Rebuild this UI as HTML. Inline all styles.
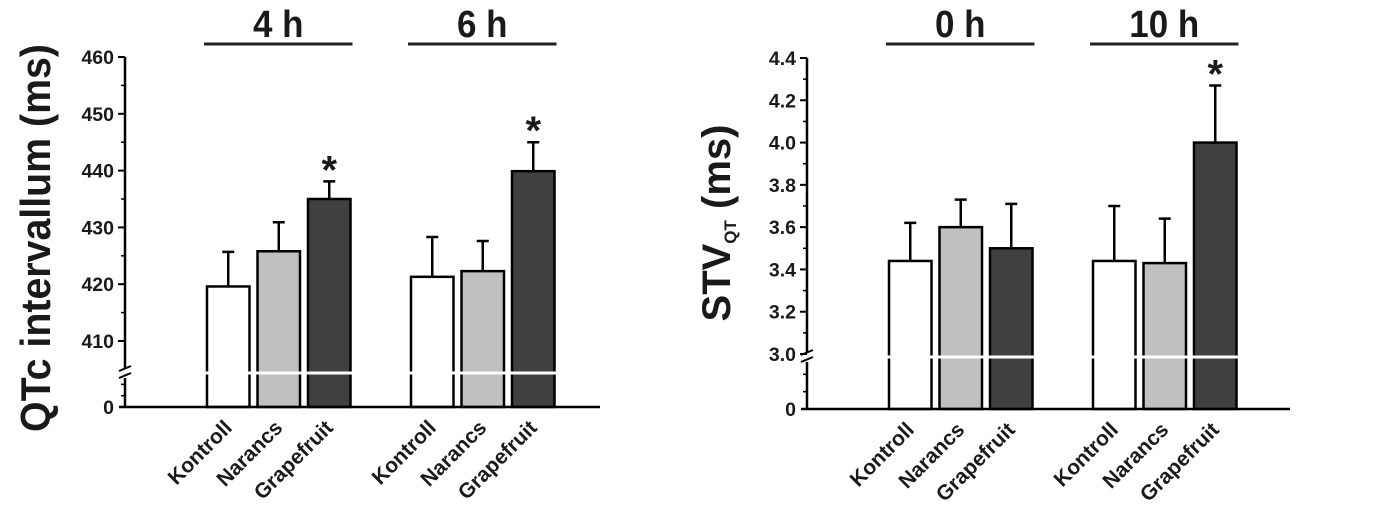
<!DOCTYPE html>
<html><head><meta charset="utf-8"><style>
html,body{margin:0;padding:0;background:#fff;}
svg{display:block;font-family:"Liberation Sans",Arial,sans-serif;font-weight:bold;}
</style></head><body>
<svg id="c" width="1384" height="513" viewBox="0 0 1384 513"></svg>
<script>
const categories = ["Kontroll","Narancs","Grapefruit"];
const fills = ["#ffffff","#c0c0c0","#404040"];
// Left chart: QTc
const qtcGroups = ["4 h","6 h"];
const qtcValues = [[419.6,425.8,435.0],[421.3,422.3,439.9]];
const qtcErrors = [[425.7,430.9,438.1],[428.3,427.6,445.0]];
const qtcStars = [[false,false,true],[false,false,true]];
const qtcTicks = [410,420,430,440,450,460];
// Right chart: STV QT
const stvGroups = ["0 h","10 h"];
const stvValues = [[3.44,3.60,3.50],[3.44,3.43,4.00]];
const stvErrors = [[3.62,3.73,3.71],[3.70,3.64,4.27]];
const stvStars = [[false,false,false],[false,false,true]];
const stvTicks = ["3.0","3.2","3.4","3.6","3.8","4.0","4.2","4.4"];

const NS="http://www.w3.org/2000/svg";
const svg=document.getElementById('c');
function mk(tag,attrs,parent,text){const e=document.createElementNS(NS,tag);for(const k in attrs)e.setAttribute(k,attrs[k]);if(text!==undefined)e.textContent=text;(parent||svg).appendChild(e);return e;}

function drawChart(cfg){
  const g=mk('g',{});
  
  
  const y=v=>cfg.yTop+(cfg.vMax-v)/(cfg.vMax-cfg.vMin)*(cfg.yBot-cfg.yTop);
  const ax=cfg.axisX, base=cfg.baseY, brk=cfg.breakY;
  cfg.values.forEach((grp,gi)=>{
    grp.forEach((v,ci)=>{
      const x0=cfg.groupX[gi]+ci*cfg.step;
      const top=y(v);
      const bar=mk('rect',{x:x0,y:top,width:cfg.bw,height:base-top,fill:fills[ci],stroke:'#000','stroke-width':2.5},g);
      
      
      const cx=x0+cfg.bw/2, et=y(cfg.errors[gi][ci]);
      const eb=mk('path',{d:`M${cx},${top} V${et} M${cx-6},${et} H${cx+6}`,stroke:'#000','stroke-width':2.5,fill:'none'},g);
      
      
      if(cfg.stars[gi][ci]){
        const s=mk('text',{x:cx,y:et+2,'text-anchor':'middle','font-size':40,fill:'#1a1a1a'},g,'*');
        
        
      }
      const lx=cx+5, ly=base+22;
      const lab=mk('text',{x:lx,y:ly,'text-anchor':'end','font-size':21,fill:'#1a1a1a',transform:`rotate(-45 ${lx} ${ly})`},g,categories[ci]);
      
      
    });
    const gx0=cfg.groupX[gi]-3, gx1=cfg.groupX[gi]+2*cfg.step+cfg.bw+2;
    const hl=mk('line',{x1:gx0,x2:gx1,y1:44,y2:44,stroke:'#222','stroke-width':3},g);
    
    
    const hx=(gx0+gx1)/2;
    const ht=mk('text',{x:0,y:0,'text-anchor':'middle','font-size':38,fill:'#1a1a1a',transform:`translate(${hx},37) scale(0.92,1)`},g,cfg.groups[gi]);
    
    
  });
  const wl=mk('line',{x1:ax+2,x2:cfg.baseEnd,y1:brk,y2:brk,stroke:'#fff','stroke-width':3},g);
  
  
  const ya=mk('path',{d:`M${ax},${cfg.yTop} V${brk-5} M${ax},${brk+5} V${base}`,stroke:'#000','stroke-width':2.5,fill:'none'},g);
  
  
  const bm=mk('path',{d:`M${ax-6},${brk-2} L${ax+6},${brk-7} M${ax-6},${brk+5} L${ax+6},${brk}`,stroke:'#000','stroke-width':2,fill:'none'},g);
  
  
  const xa=mk('line',{x1:ax-6,x2:cfg.baseEnd,y1:base,y2:base,stroke:'#000','stroke-width':2.5},g);
  
  
  cfg.ticks.forEach((t,i)=>{
    const ty=y(parseFloat(t));
    mk('line',{x1:ax-7,x2:ax,y1:ty,y2:ty,stroke:'#000','stroke-width':2},g);
    if(i<cfg.ticks.length-1){const my=y(parseFloat(t)+cfg.minor);mk('line',{x1:ax-4,x2:ax,y1:my,y2:my,stroke:'#000','stroke-width':1.5},g);}
    const tl=mk('text',{x:ax-11,y:ty+7,'text-anchor':'end','font-size':19.5,fill:'#1a1a1a'},g,t);
    
    
  });
  [1,2].forEach(k=>{const my=brk+k*(base-brk)/3;mk('line',{x1:ax-4,x2:ax,y1:my,y2:my,stroke:'#000','stroke-width':1.5},g);});
  const zl=mk('text',{x:ax-11,y:base+7,'text-anchor':'end','font-size':19.5,fill:'#1a1a1a'},g,'0');
  
  
  return g;
}

const g1=drawChart({name:'qtc-chart',groups:qtcGroups,values:qtcValues,errors:qtcErrors,stars:qtcStars,
  ticks:qtcTicks.map(String),vMin:410,vMax:460,yTop:57,yBot:341,minor:5,axisX:125,baseY:407,breakY:373,baseEnd:600,
  groupX:[207,411],step:50.5,bw:42.5});
const t1=mk('text',{x:0,y:0,'text-anchor':'middle','font-size':42,fill:'#1a1a1a',textLength:388,lengthAdjust:'spacingAndGlyphs',transform:'translate(50,238) rotate(-90)'},g1,'QTc intervallum (ms)');



const g2=drawChart({name:'stv-chart',groups:stvGroups,values:stvValues,errors:stvErrors,stars:stvStars,
  ticks:stvTicks,vMin:3.0,vMax:4.4,yTop:58,yBot:354,minor:0.1,axisX:807,baseY:409,breakY:357,baseEnd:1290,
  groupX:[889,1093],step:50.5,bw:42.5});
const t2=mk('text',{x:0,y:0,'text-anchor':'middle','font-size':40,fill:'#1a1a1a',transform:'translate(730,223) rotate(-90)'},g2);


mk('tspan',{},t2,'STV');
mk('tspan',{'font-size':17,dy:6},t2,'QT');
mk('tspan',{dy:-6},t2,' (ms)');
</script>
</body></html>
